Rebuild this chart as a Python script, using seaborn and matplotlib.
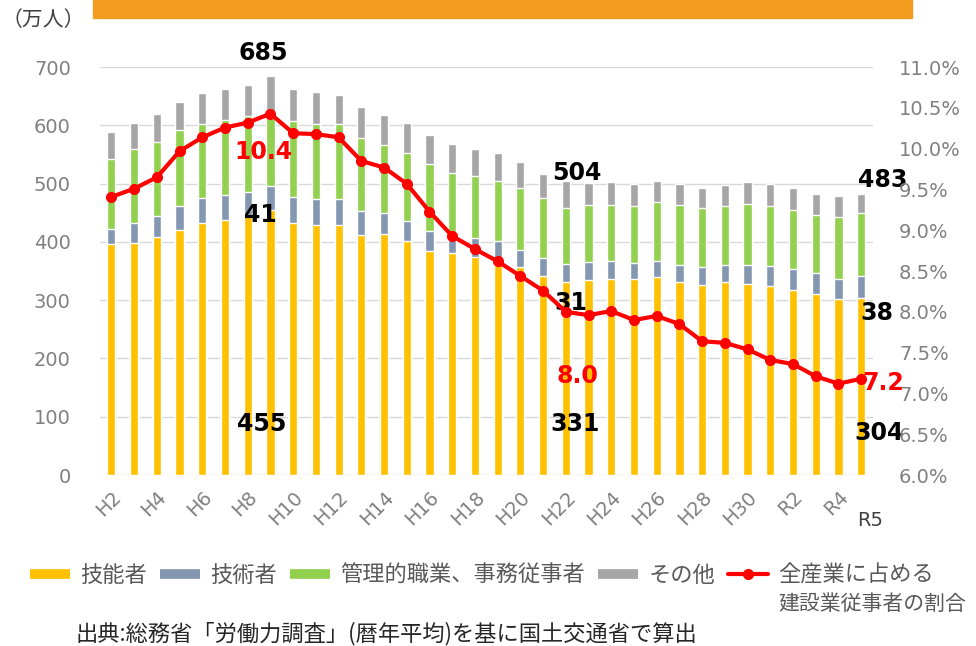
import numpy as np
import pandas as pd
import matplotlib
import matplotlib.pyplot as plt
import seaborn as sns
from matplotlib.lines import Line2D
from matplotlib.patches import Rectangle

matplotlib.use('agg')

# data (万人, %)
years = ['H2', 'H3', 'H4', 'H5', 'H6', 'H7', 'H8', 'H9', 'H10', 'H11', 'H12', 'H13',
         'H14', 'H15', 'H16', 'H17', 'H18', 'H19', 'H20', 'H21', 'H22', 'H23', 'H24',
         'H25', 'H26', 'H27', 'H28', 'H29', 'H30', 'R1', 'R2', 'R3', 'R4', 'R5']
skilled = [396, 399, 408, 420, 433, 437, 442, 455, 432, 429, 429, 412,
           414, 401, 384, 381, 375, 360, 357, 342, 331, 334, 336,
           337, 340, 332, 326, 331, 328, 325, 318, 311, 302, 304]
engineers = [27, 33, 36, 41, 42, 43, 43, 41, 46, 45, 45, 41,
             36, 35, 35, 30, 31, 41, 30, 31, 31, 31, 31,
             27, 28, 29, 31, 30, 32, 33, 36, 35, 35, 38]
clerical = [119, 128, 128, 131, 127, 129, 132, 117, 130, 129, 129, 126,
            117, 116, 115, 108, 107, 104, 106, 102, 96, 99, 97,
            98, 101, 102, 101, 101, 105, 104, 101, 101, 106, 107]
total = [588, 604, 619, 640, 655, 663, 670, 685, 662, 657, 653, 632,
         618, 604, 584, 568, 559, 552, 537, 517, 504, 502, 503,
         499, 505, 500, 492, 498, 503, 499, 492, 482, 479, 483]
ratio = [9.41, 9.51, 9.65, 9.97, 10.14, 10.26, 10.32, 10.43, 10.19, 10.18, 10.14, 9.85,
         9.77, 9.57, 9.23, 8.93, 8.77, 8.62, 8.44, 8.26, 8.0, 7.96, 8.01,
         7.90, 7.95, 7.85, 7.64, 7.62, 7.54, 7.41, 7.36, 7.21, 7.12, 7.18]

df = pd.DataFrame({'year': years, 'skilled': skilled, 'engineers': engineers,
                   'clerical': clerical, 'total': total, 'ratio': ratio})
df['c1'] = df['skilled']
df['c2'] = df['c1'] + df['engineers']
df['c3'] = df['c2'] + df['clerical']

sns.set_theme(style='white')
plt.rcParams['font.family'] = ['Noto Sans CJK JP', 'DejaVu Sans']

c_yel, c_blu, c_grn, c_gry, c_red = '#FFC000', '#8497B0', '#92D050', '#A6A6A6', '#FF0000'
tick_col = '#808080'
num_font = ['DejaVu Sans']

fig = plt.figure(figsize=(9.76, 6.46), dpi=100)
ax = fig.add_axes([0.1025, 0.2647, 0.7915, 0.6313])

# stacked bars drawn tallest first
for col, c in [('total', c_gry), ('c3', c_grn), ('c2', c_blu), ('c1', c_yel)]:
    sns.barplot(data=df, x='year', y=col, color=c, width=0.36, saturation=1,
                ax=ax, zorder=2)

ax.set_ylim(0, 700)
ax.set_yticks(range(0, 701, 100))
ax.yaxis.grid(True, color='#D9D9D9', lw=1, zorder=0)
ax.set_axisbelow(True)
ax.set_xlabel('')
ax.set_ylabel('')
ax.set_xticks(range(0, 33, 2))
ax.set_xticklabels(years[0:33:2], rotation=45, ha='right', rotation_mode='anchor')
ax.tick_params(axis='both', length=0, labelsize=14, labelcolor=tick_col)
ax.tick_params(axis='y', pad=21)
ax.tick_params(axis='x', pad=9)
for lab in ax.get_xticklabels() + ax.get_yticklabels():
    lab.set_family(num_font)
for s in ax.spines.values():
    s.set_visible(False)

ax2 = ax.twinx()
sns.lineplot(x=np.arange(len(years)), y=df['ratio'], ax=ax2, color=c_red, lw=3,
             marker='o', markersize=8, markeredgewidth=0, zorder=5)
ax2.set_ylim(6.0, 11.0)
ticks2 = np.arange(6.0, 11.01, 0.5)
ax2.set_yticks(ticks2)
ax2.set_yticklabels([f'{v:.1f}%' for v in ticks2], family=num_font)
ax2.yaxis.set_tick_params(which='major', length=0, labelsize=14, labelcolor=tick_col,
                          pad=19)
ax2.set_ylabel('')
for s in ax2.spines.values():
    s.set_visible(False)
ax.set_xlim(-0.5, len(years) - 0.5)

# annotations
bold = dict(fontsize=17, fontweight='bold', ha='center', va='center', clip_on=False,
            zorder=6, family=num_font)
ax.text(6.7, 725, '685', color='black', **bold)
ax.text(6.55, 446, '41', color='black', **bold)
ax.text(6.6, 87, '455', color='black', **bold)
ax.text(20.5, 518, '504', color='black', **bold)
ax.text(20.2, 295, '31', color='black', **bold)
ax.text(20.4, 87, '331', color='black', **bold)
ax.text(33.95, 506, '483', color='black', **bold)
ax.text(33.7, 278, '38', color='black', **bold)
ax.text(33.8, 72, '304', color='black', **bold)
ax2.text(6.7, 9.96, '10.4', color=c_red, **bold)
ax2.text(20.5, 7.21, '8.0', color=c_red, **bold)
ax2.text(33.95, 7.13, '7.2', color=c_red, **bold)
ax.text(33.4, -78, 'R5', fontsize=14, color='#404040', ha='center', va='center',
        clip_on=False, family=num_font)

# top banner and unit
fig.patches.append(Rectangle((93 / 976, 1 - 18 / 646), (912 - 93) / 976, 18 / 646,
                             transform=fig.transFigure, color='#F39C1F', zorder=0))
fig.text(2 / 976, 1 - 20 / 646, '（万人）', fontsize=15, color='#404040', va='center')

# legend
handles = [Line2D([0], [0], color=c_yel, lw=7, solid_capstyle='butt'),
           Line2D([0], [0], color=c_blu, lw=7, solid_capstyle='butt'),
           Line2D([0], [0], color=c_grn, lw=7, solid_capstyle='butt'),
           Line2D([0], [0], color=c_gry, lw=7, solid_capstyle='butt'),
           Line2D([0], [0], color=c_red, lw=3, marker='o', markersize=7)]
labels = ['技能者', '技術者', '管理的職業、事務従事者', 'その他', '全産業に占める']
fig.legend(handles, labels, loc='center left', bbox_to_anchor=(30 / 976, 1 - 575 / 646),
           ncol=5, frameon=False, fontsize=16, handlelength=1.8, handletextpad=0.45,
           columnspacing=0.6, labelcolor='#595959', borderaxespad=0, borderpad=0)
fig.text(778 / 976, 1 - 604 / 646, '建設業従事者の割合', fontsize=15, color='#595959',
         va='center')
fig.text(75 / 976, 1 - 634 / 646, '出典:総務省「労働力調査」(暦年平均)を基に国土交通省で算出',
         fontsize=16, color='#262626', va='center')

fig.savefig('out.png', dpi=100)
